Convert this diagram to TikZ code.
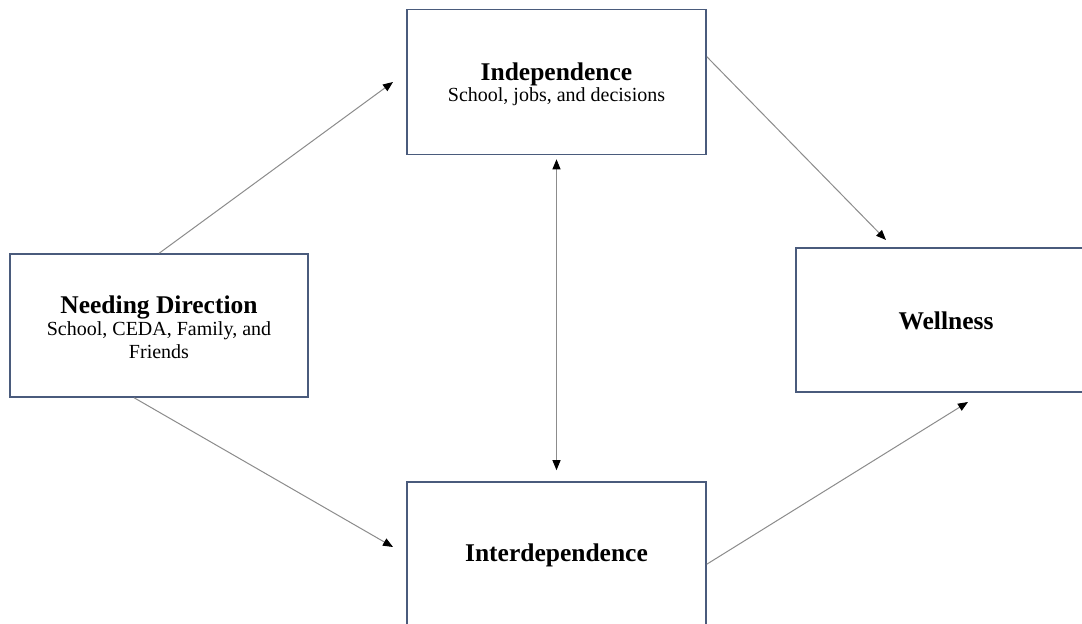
\documentclass[tikz,border=0pt]{standalone}
\usepackage{fontspec}
\setmainfont{Liberation Serif}
\usetikzlibrary{arrows.meta,calc}
\definecolor{boxblue}{HTML}{4A5B7C}
\definecolor{linegray}{HTML}{8C8C8C}
\tikzset{
  box/.style={draw=boxblue, line width=1.6pt, fill=white, rectangle, align=center, inner sep=0pt},
  ttl/.style={font=\fontsize{25.5}{29}\selectfont\bfseries},
  txt/.style={align=center, font=\fontsize{20}{23}\selectfont},
  conn/.style={draw=linegray, line width=1pt, -{Triangle[length=10pt,width=8pt,color=black]}},
  dconn/.style={draw=linegray, line width=1pt, {Triangle[length=10pt,width=8pt,color=black]}-{Triangle[length=10pt,width=8pt,color=black]}}
}
\newcommand{\ttlfont}{\fontsize{25.5}{29}\selectfont\bfseries}
\begin{document}
\begin{tikzpicture}[x=1pt,y=-1pt]
\useasboundingbox (0,0) rectangle (1082,624);
\fill[white] (0,0) rectangle (1082,624);
\begin{scope}
\clip (0,0) rectangle (1082,624);
\node[box, minimum width=299pt, minimum height=145pt] (ind) at (556.5,82) {};
\node[txt] (indt) at (556.5,84) {\ttlfont Independence\\[-2pt] School, jobs, and decisions};
\node[box, minimum width=298pt, minimum height=143pt] (nd) at (159,325.5) {};
\node[txt] (ndt) at (159,327) {\ttlfont Needing Direction\\[-1pt] School, CEDA, Family, and\\ Friends};
\node[box, minimum width=300pt, minimum height=144pt] (wel) at (946,320) {};
\node[ttl] (welt) at (946,321) {Wellness};
\node[box, minimum width=299pt, minimum height=146pt] (inter) at (556.5,555) {};
\node[ttl] (intert) at (556.5,555) {Interdependence};
\end{scope}
\coordinate (t1) at (393,82);
\coordinate (t2) at (393,547);
\coordinate (t3) at (886,240);
\coordinate (t4) at (968,402);
\draw[conn] ($(nd.north west)+(150,0)$) -- (t1);
\draw[conn] ($(nd.south west)+(125,0)$) -- (t2);
\draw[conn] ($(ind.north east)+(0,48)$) -- (t3);
\draw[conn] ($(inter.north east)+(0,83)$) -- (t4);
\draw[dconn] ($(ind.south)+(0,4)$) -- ($(inter.north)+(0,-11)$);
\end{tikzpicture}
\end{document}
